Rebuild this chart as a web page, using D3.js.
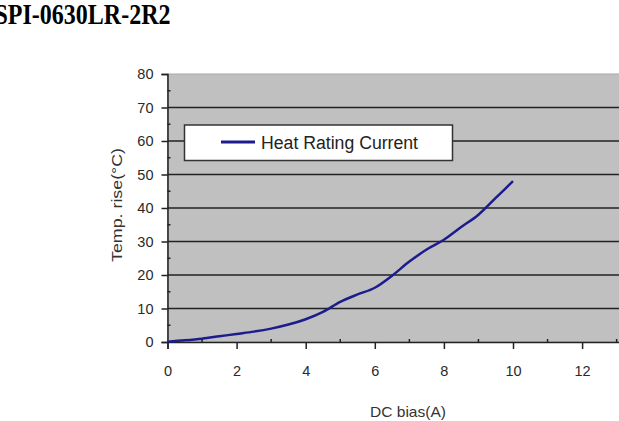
<!DOCTYPE html>
<html>
<head>
<meta charset="utf-8">
<script src="https://cdn.jsdelivr.net/npm/d3@7"></script>
<style>
  body { margin: 0; background: #fff; }
  svg { display: block; }
</style>
</head>
<body>
<svg id="chart" width="619" height="421"></svg>
<script>
// 讀圖估計的資料
const biasA = [0, 0.5, 1, 1.5, 2, 2.5, 3, 3.5, 4, 4.5, 5, 5.5, 6, 6.5, 7, 7.5, 8, 8.5, 9, 9.5, 10];
const tempRise = [0.1, 0.5, 1.0, 1.7, 2.4, 3.1, 4.0, 5.2, 6.8, 9.0, 12.0, 14.2, 16.2, 19.8, 24.0, 27.6, 30.5, 34.3, 38.0, 43.0, 48.0];
const xTicks = [0, 2, 4, 6, 8, 10, 12];
const yTicks = [0, 10, 20, 30, 40, 50, 60, 70, 80];
const seriesName = 'Heat Rating Current';

const svg = d3.select('#chart');

// 尺寸
const plotLeft = 167.5, plotBottom = 342, plotTop = 74;
const x = d3.scaleLinear().domain([0, 13.5]).range([plotLeft, plotLeft + 13.5 * 34.55]);
const y = d3.scaleLinear().domain([0, 80]).range([plotBottom, plotTop]);

// 標題 (原圖左側被裁掉)
svg.append('text')
    .attr('transform', 'scale(1,1.22)')
    .attr('x', -5.5)
    .attr('y', 19.7)
    .attr('font-family', '"Liberation Serif", "Times New Roman", serif')
    .attr('font-weight', 'bold')
    .attr('font-size', 24)
    .attr('fill', '#000')
    .text('SPI-0630LR-2R2');

// 灰色背景
svg.append('rect')
    .attr('x', x(0))
    .attr('y', y(80))
    .attr('width', x(13.5) - x(0))
    .attr('height', y(0) - y(80))
    .attr('fill', '#c0c0c0')
    .attr('stroke', '#a8a8a8')
    .attr('stroke-width', 1);

// 格線
svg.append('g')
    .selectAll('line')
    .data(yTicks.filter(d => d > 0 && d < 80))
    .enter()
    .append('line')
    .attr('x1', x(0))
    .attr('x2', x(13.5))
    .attr('y1', d => y(d))
    .attr('y2', d => y(d))
    .attr('stroke', '#222')
    .attr('stroke-width', 1.5);

// y 軸
const yAxis = svg.append('g')
    .attr('transform', `translate(${x(0)},0)`)
    .call(d3.axisLeft(y).tickValues(yTicks).tickSize(6).tickPadding(8));
yAxis.select('.domain').attr('stroke', '#222').attr('stroke-width', 1.5);
yAxis.selectAll('.tick line').attr('stroke', '#222').attr('stroke-width', 1.5);
yAxis.selectAll('text')
    .attr('font-family', 'Arial, "Liberation Sans", sans-serif')
    .attr('font-size', 14.5)
    .attr('fill', '#2a2a2a');

// y 小刻度
svg.append('g')
    .selectAll('line')
    .data(d3.range(5, 80, 10))
    .enter()
    .append('line')
    .attr('x1', x(0))
    .attr('x2', x(0) + 3)
    .attr('y1', d => y(d))
    .attr('y2', d => y(d))
    .attr('stroke', '#222')
    .attr('stroke-width', 1.5);

// x 軸
const xAxis = svg.append('g')
    .attr('transform', `translate(0,${y(0)})`)
    .call(d3.axisBottom(x).tickValues(xTicks).tickSize(7).tickPadding(17));
xAxis.select('.domain').attr('stroke', '#222').attr('stroke-width', 1.5);
xAxis.selectAll('.tick line').attr('stroke', '#222').attr('stroke-width', 1.5);
xAxis.selectAll('text')
    .attr('font-family', 'Arial, "Liberation Sans", sans-serif')
    .attr('font-size', 14.5)
    .attr('fill', '#2a2a2a');

// x 小刻度
svg.append('g')
    .selectAll('line')
    .data(d3.range(1, 14, 2))
    .enter()
    .append('line')
    .attr('x1', d => x(d))
    .attr('x2', d => x(d))
    .attr('y1', y(0) - 3)
    .attr('y2', y(0) + 1)
    .attr('stroke', '#222')
    .attr('stroke-width', 1.5);

// 曲線
const line = d3.line()
    .x((d, i) => x(biasA[i]))
    .y(d => y(d))
    .curve(d3.curveMonotoneX);

svg.append('path')
    .datum(tempRise)
    .attr('d', line)
    .attr('fill', 'none')
    .attr('stroke', '#1c1c8c')
    .attr('stroke-width', 2.5);

// 軸標題
svg.append('text')
    .attr('x', 408)
    .attr('y', 417)
    .attr('text-anchor', 'middle')
    .attr('font-family', 'Arial, "Liberation Sans", sans-serif')
    .attr('font-size', 15)
    .attr('textLength', 76)
    .attr('lengthAdjust', 'spacingAndGlyphs')
    .attr('fill', '#333')
    .text('DC bias(A)');

svg.append('text')
    .attr('transform', 'translate(122,205) rotate(-90)')
    .attr('text-anchor', 'middle')
    .attr('font-family', 'Arial, "Liberation Sans", sans-serif')
    .attr('font-size', 15)
    .attr('textLength', 114)
    .attr('lengthAdjust', 'spacingAndGlyphs')
    .attr('fill', '#333')
    .text('Temp. rise(°C)');

// 圖例
const legend = svg.append('g');
legend.append('rect')
    .attr('x', 184.5)
    .attr('y', 125)
    .attr('width', 268)
    .attr('height', 35.5)
    .attr('fill', '#fff')
    .attr('stroke', '#333')
    .attr('stroke-width', 1.5);
legend.append('line')
    .attr('x1', 221)
    .attr('x2', 255)
    .attr('y1', 142)
    .attr('y2', 142)
    .attr('stroke', '#1c1c8c')
    .attr('stroke-width', 3);
legend.append('text')
    .attr('x', 261)
    .attr('y', 148.5)
    .attr('font-family', 'Arial, "Liberation Sans", sans-serif')
    .attr('font-size', 18)
    .attr('textLength', 157)
    .attr('lengthAdjust', 'spacingAndGlyphs')
    .attr('fill', '#222')
    .text(seriesName);
</script>
</body>
</html>
